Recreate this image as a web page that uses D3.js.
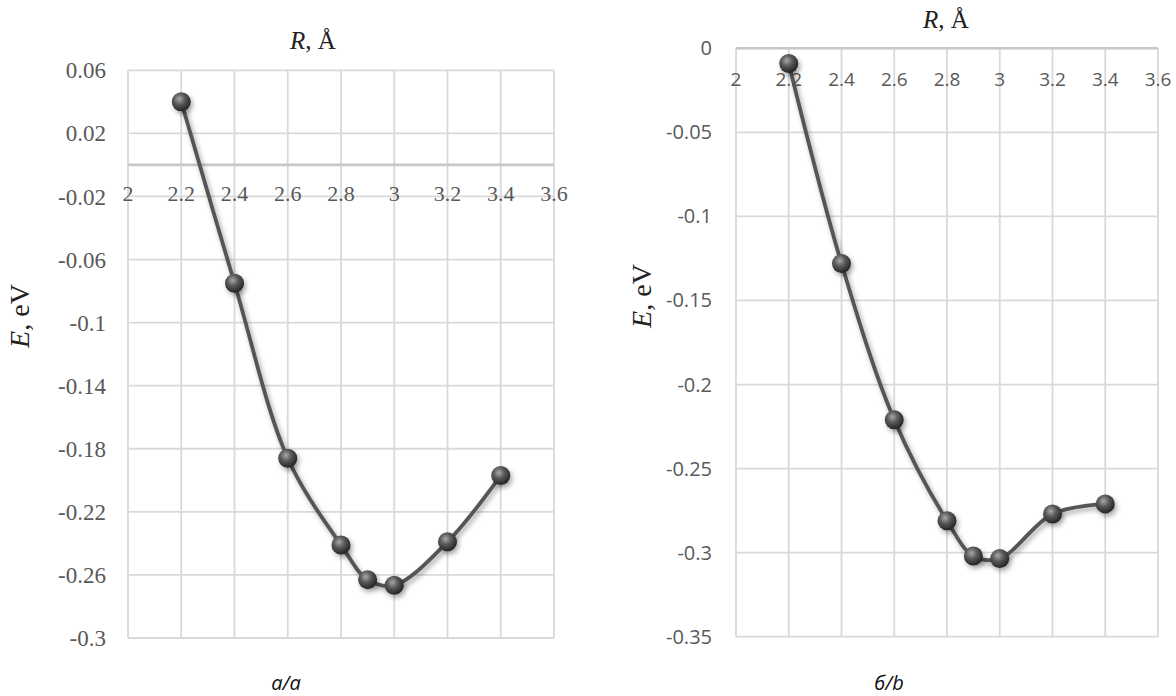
<!DOCTYPE html>
<html>
<head>
<meta charset="utf-8">
<script src="https://cdnjs.cloudflare.com/ajax/libs/d3/7.8.5/d3.min.js"></script>
<style>
  body{margin:0;background:#fff;}
  svg{display:block;}
</style>
</head>
<body>
<main></main>
<script>
// ---- data ----
const distances=[2.2,2.4,2.6,2.8,2.9,3.0,3.2,3.4];
const energyA=[0.040,-0.075,-0.186,-0.241,-0.263,-0.2665,-0.239,-0.197];
const energyB=[-0.009,-0.128,-0.221,-0.281,-0.302,-0.3035,-0.277,-0.271];
const xTicks=[2,2.2,2.4,2.6,2.8,3,3.2,3.4,3.6];
const yTicksA=[0.06,0.02,-0.02,-0.06,-0.1,-0.14,-0.18,-0.22,-0.26,-0.3];
const yTicksB=[0,-0.05,-0.1,-0.15,-0.2,-0.25,-0.3,-0.35];
const captionA="a/a";
const captionB="б/b";

const w=1176;
const h=696;
const gridColor="#d9d9d9";
const textColor="#595959";

const svg=d3.select("main")
  .append("svg")
  .attr("width",w)
  .attr("height",h);

const defs=svg.append("defs");
const grad=defs.append("radialGradient")
  .attr("id","ball")
  .attr("cx","40%").attr("cy","35%").attr("r","65%");
grad.append("stop").attr("offset","0%").attr("stop-color","#a8a8a8");
grad.append("stop").attr("offset","45%").attr("stop-color","#5a5a5a");
grad.append("stop").attr("offset","100%").attr("stop-color","#242424");
defs.append("filter")
  .attr("id","shadow")
  .attr("x","-50%").attr("y","-50%").attr("width","200%").attr("height","200%")
  .append("feDropShadow")
  .attr("dx",2).attr("dy",3).attr("stdDeviation",2.5)
  .attr("flood-color","#000").attr("flood-opacity",0.35);

// one panel
function drawPanel(opt){
  const xScale=d3.scaleLinear().domain([2,3.6]).range(opt.xRange);
  const yScale=d3.scaleLinear().domain(opt.yDomain).range(opt.yRange);
  const g=svg.append("g");

  // grid
  g.selectAll(".vgrid")
    .data(xTicks)
    .enter()
    .append("line")
    .attr("x1",d=>xScale(d)).attr("x2",d=>xScale(d))
    .attr("y1",opt.yRange[0]).attr("y2",opt.yRange[1])
    .attr("stroke",gridColor).attr("stroke-width",1.8);
  g.selectAll(".hgrid")
    .data(opt.yTicks)
    .enter()
    .append("line")
    .attr("x1",opt.xRange[0]).attr("x2",opt.xRange[1])
    .attr("y1",d=>yScale(d)).attr("y2",d=>yScale(d))
    .attr("stroke",gridColor).attr("stroke-width",1.8);
  // horizontal axis line at zero
  g.append("line")
    .attr("x1",opt.xRange[0]).attr("x2",opt.xRange[1])
    .attr("y1",yScale(0)).attr("y2",yScale(0))
    .attr("stroke","#c8c8c8").attr("stroke-width",2.6);

  // y tick labels
  g.selectAll(".ylab")
    .data(opt.yTicks)
    .enter()
    .append("text")
    .attr("x",opt.yLabelX)
    .attr("y",d=>yScale(d))
    .attr("dy","0.35em")
    .attr("text-anchor","end")
    .style("font-family",opt.tickFont)
    .style("font-size",opt.tickSize+"px")
    .style("fill",textColor)
    .text(d=>String(d));
  // x tick labels
  g.selectAll(".xlab")
    .data(xTicks)
    .enter()
    .append("text")
    .attr("x",d=>xScale(d))
    .attr("y",yScale(0)+opt.xLabelDy)
    .attr("text-anchor","middle")
    .style("font-family",opt.tickFont)
    .style("font-size",opt.xTickSize+"px")
    .style("fill",textColor)
    .text(d=>String(d));

  // titles
  const t=g.append("text")
    .attr("x",opt.titleX).attr("y",opt.titleY)
    .attr("text-anchor","middle")
    .style("font-family","'Liberation Serif','DejaVu Serif',serif")
    .style("font-size","25px")
    .style("fill","#222");
  t.append("tspan").style("font-style","italic").text("R");
  t.append("tspan").text(", Å");

  const yt=g.append("text")
    .attr("transform","translate("+opt.yTitleX+","+opt.yTitleY+") rotate(-90)")
    .attr("text-anchor","middle")
    .style("font-family","'Liberation Serif','DejaVu Serif',serif")
    .style("font-size","28px")
    .style("fill","#222");
  yt.append("tspan").style("font-style","italic").text("E");
  yt.append("tspan").text(", eV");

  g.append("text")
    .attr("x",opt.captionX).attr("y",690)
    .attr("text-anchor","middle")
    .style("font-family","'Open Sans',sans-serif")
    .style("font-style","italic")
    .style("font-size","20px")
    .style("fill","#111")
    .text(opt.caption);

  // curve + markers
  const pts=distances.map((d,i)=>[d,opt.values[i]]);
  const line=d3.line()
    .x(d=>xScale(d[0]))
    .y(d=>yScale(d[1]))
    .curve(d3.curveCatmullRom.alpha(0.5));
  g.append("path")
    .datum(pts)
    .attr("d",line)
    .attr("fill","none")
    .attr("stroke","#555")
    .attr("stroke-width",3.8)
    .attr("filter","url(#shadow)");
  g.selectAll(".dot")
    .data(pts)
    .enter()
    .append("circle")
    .attr("class","dot")
    .attr("cx",d=>xScale(d[0]))
    .attr("cy",d=>yScale(d[1]))
    .attr("r",9.5)
    .attr("fill","url(#ball)")
    .attr("filter","url(#shadow)");
}

drawPanel({
  values:energyA,
  yTicks:yTicksA,
  yDomain:[0.06,-0.3],
  xRange:[128,554],
  yRange:[70.3,638],
  yLabelX:106,
  xLabelDy:36,
  tickFont:"'Liberation Serif','DejaVu Serif',serif",
  tickSize:23,
  xTickSize:22,
  titleX:313,titleY:49,
  yTitleX:29,yTitleY:316,
  captionX:286,
  caption:captionA
});

drawPanel({
  values:energyB,
  yTicks:yTicksB,
  yDomain:[0,-0.35],
  xRange:[736,1158],
  yRange:[48.3,636.7],
  yLabelX:712,
  xLabelDy:38,
  tickFont:"'Open Sans',sans-serif",
  tickSize:20,
  xTickSize:19,
  titleX:946,titleY:28,
  yTitleX:651,yTitleY:296,
  captionX:889,
  caption:captionB
});
</script>
</body>
</html>
